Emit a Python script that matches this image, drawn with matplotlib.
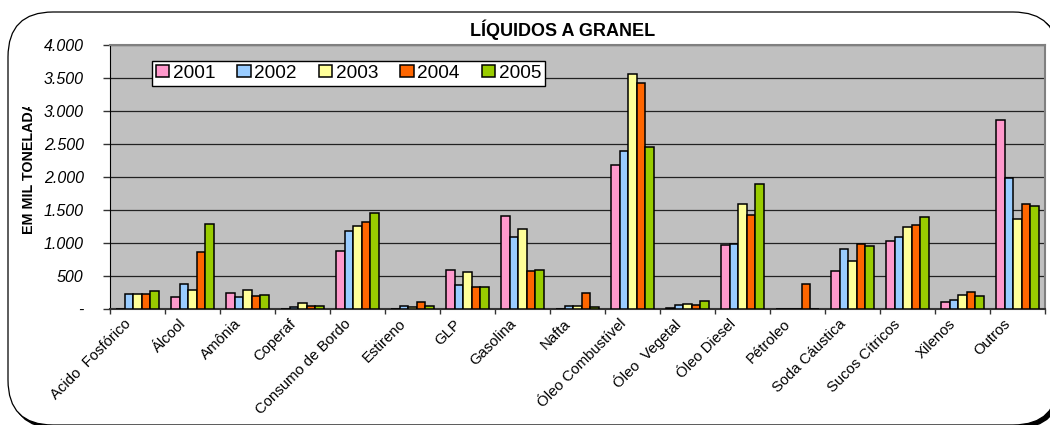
import matplotlib
matplotlib.use("Agg")
import matplotlib.pyplot as plt
import numpy as np
from matplotlib.patches import FancyBboxPatch
from matplotlib.transforms import IdentityTransform, Bbox, ScaledTranslation
from matplotlib.ticker import FixedLocator, FuncFormatter

plt.rcParams['font.family'] = ['Liberation Sans', 'DejaVu Sans']

categories = ["Acido  Fosfórico", "Álcool", "Amônia", "Coperaf", "Consumo de Bordo",
              "Estireno", "GLP", "Gasolina", "Nafta", "Óleo Combustível", "Óleo  Vegetal",
              "Óleo Diesel", "Pétroleo", "Soda Cáustica", "Sucos Cítricos", "Xilenos", "Outros"]
years = ["2001", "2002", "2003", "2004", "2005"]
v2001 = [0, 186, 241, 0, 880, 0, 594, 1408, 0, 2178, 25, 971, 0, 573, 1036, 111, 2867]
v2002 = [226, 382, 191, 40, 1182, 50, 367, 1097, 55, 2394, 65, 981, 0, 910, 1092, 136, 1982]
v2003 = [226, 297, 292, 90, 1258, 35, 568, 1207, 50, 3561, 75, 1595, 0, 724, 1237, 216, 1363]
v2004 = [226, 860, 201, 50, 1318, 106, 332, 573, 252, 3421, 60, 1419, 377, 981, 1268, 262, 1595]
v2005 = [282, 1283, 216, 55, 1459, 45, 332, 594, 35, 2455, 121, 1901, 0, 961, 1398, 206, 1569]
series = [v2001, v2002, v2003, v2004, v2005]
colors = ["#FF99CC", "#99CCFF", "#FFFF99", "#FF6600", "#99CC00"]
yticks = [0, 500, 1000, 1500, 2000, 2500, 3000, 3500, 4000]

W, H = 1050, 425
fig = plt.figure(figsize=(W / 100, H / 100), dpi=100)
fig.patch.set_facecolor("white")

# rounded chart border with shadow (pixel coordinates)
r = 45
x0, x1 = 8, 1058
ytop, ybot = H - 12, H - 425
shadow = FancyBboxPatch((x0 + 3, ybot - 3), x1 - x0, ytop - ybot,
                        boxstyle=f"round,pad=0,rounding_size={r}",
                        transform=IdentityTransform(), facecolor="black",
                        edgecolor="black", lw=1, zorder=-3)
border = FancyBboxPatch((x0, ybot), x1 - x0, ytop - ybot,
                        boxstyle=f"round,pad=0,rounding_size={r}",
                        transform=IdentityTransform(), facecolor="white",
                        edgecolor="black", lw=0.9, zorder=-2)
fig.patches.extend([shadow, border])

ax = fig.add_axes([110 / W, (H - 309.3) / H, 935 / W, 264.6 / H])
ax.set_facecolor("#C0C0C0")

n = len(categories)
x = np.arange(n)
bw = 0.157
for i, (vals, c, yr) in enumerate(zip(series, colors, years)):
    ax.bar(x + (i - 2) * bw, vals, width=bw, color=c, edgecolor="black",
           linewidth=1.1, label=yr, zorder=3)

ax.set_xlim(-0.5, n - 0.5)
ax.set_ylim(0, 4000)
ax.yaxis.set_major_locator(FixedLocator(yticks))
ax.yaxis.set_major_formatter(FuncFormatter(
    lambda v, p: "-" if v == 0 else f"{int(v):,}".replace(",", ".")))
ax.grid(axis="y", color="#222222", lw=0.9, zorder=1)
ax.set_axisbelow(True)

ax.set_xticks(np.arange(n + 1) - 0.5)
ax.set_xticklabels([])
ax.set_xticks(x, minor=True)
ax.set_xticklabels(categories, minor=True, rotation=45, ha="right", va="center",
                   rotation_mode="anchor", fontsize=10.7)
ax.tick_params(axis="x", which="major", direction="out", length=3.5, width=1, color="#333333")
ax.tick_params(axis="x", which="minor", length=0, pad=9)
offset = ScaledTranslation(-9 / 100, 0, fig.dpi_scale_trans)
for lab in ax.get_xticklabels(minor=True):
    lab.set_transform(lab.get_transform() + offset)

ax.tick_params(axis="y", direction="out", length=5, width=1, color="#333333", pad=14)
for lab in ax.get_yticklabels():
    lab.set_fontstyle("italic")
    lab.set_fontsize(11.5)

for s in ["top", "right"]:
    ax.spines[s].set_color("#808080")
    ax.spines[s].set_linewidth(1.5)
ax.spines["left"].set_color("black")
ax.spines["bottom"].set_color("#333333")
ax.spines["bottom"].set_linewidth(1.5)

leg = ax.legend(loc="upper left", bbox_to_anchor=((152 - 110) / 935, 1 - (61 - 44.7) / 264.6),
                ncol=5, fontsize=13.7, frameon=True, fancybox=False, edgecolor="black",
                framealpha=1, borderpad=0.2, handlelength=0.7, handleheight=0.6,
                handletextpad=0.2, columnspacing=1.15, borderaxespad=0)
leg.get_frame().set_linewidth(1.0)
leg.set_zorder(5)

fig.text(563 / W, 1 - 30 / H, "LÍQUIDOS A GRANEL", ha="center", va="center",
         fontsize=13, fontweight="bold")

yl = fig.text(29 / W, (H - 234) / H, "EM MIL TONELADAS", rotation=90, ha="center",
              va="bottom", fontsize=10.3, fontweight="bold")
yl.set_clip_box(Bbox([[0, 0], [W, H - 107]]))
yl.set_clip_on(True)

fig.savefig("out.png", dpi=100)
